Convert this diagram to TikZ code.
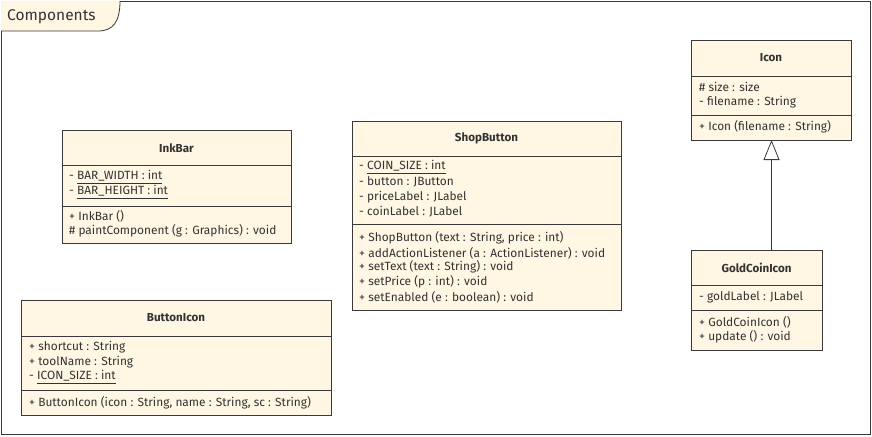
\documentclass[tikz,border=0pt]{standalone}
\usepackage{fontspec}
\setmainfont{Fira Sans}
\usetikzlibrary{arrows.meta}
\definecolor{fillc}{HTML}{FFF7E3}
\definecolor{linec}{HTML}{3A3A3A}
\definecolor{textc}{HTML}{333333}
\begin{document}
\begin{tikzpicture}[x=1pt,y=-1pt,
  box/.style={draw=linec, fill=fillc, line width=0.8pt, inner sep=0pt, outer sep=0pt, anchor=north west},
  sep/.style={draw=linec, line width=0.8pt},
  txt/.style={anchor=west, inner sep=0pt, font=\fontsize{11.9}{13}\selectfont, text=textc},
  ttl/.style={inner sep=0pt, font=\fontsize{11.6}{13}\selectfont\bfseries, text=textc},
  inherit/.style={draw=linec, line width=0.8pt, -{Triangle[open, width=16pt, length=20pt, fill=white]}}]
\useasboundingbox (0,0) rectangle (872,436);
% frame
\node[draw=linec, line width=0.8pt, fill=white, minimum width=869pt, minimum height=433pt, inner sep=0pt, outer sep=0pt, anchor=north west] (frame) at (1,1) {};
\fill[fillc] (1,1) -- (120,1) .. controls (120,22) and (113,31) .. (98,31) -- (1,31) -- cycle;
\draw[linec, line width=0.8pt] (120,1) .. controls (120,22) and (113,31) .. (98,31) -- (1,31);
\node[txt, font=\fontsize{15.5}{17}\selectfont] (ftitle) at (7,17) {Components};

% InkBar
\node[box, minimum width=229pt, minimum height=113pt] (inkbar) at (62,130) {};
\draw[sep] (62,165) -- (291,165);
\draw[sep] (62,206) -- (291,206);
\node[ttl] (inkbart) at (176.5,148) {InkBar};
\node[txt] (ink1) at (69,177) {- \underline{BAR\_WIDTH : int}};
\node[txt] (ink2) at (69,192) {- \underline{BAR\_HEIGHT : int}};
\node[txt] (ink3) at (69,216) {+ InkBar ()};
\node[txt] (ink4) at (69,231) {\# paintComponent (g : Graphics) : void};

% ShopButton
\node[box, minimum width=269pt, minimum height=189pt] (shop) at (352,121) {};
\draw[sep] (352,156) -- (621,156);
\draw[sep] (352,224) -- (621,224);
\node[ttl] (shopt) at (486.5,138) {ShopButton};
\node[txt] (s1) at (359,167) {- \underline{COIN\_SIZE : int}};
\node[txt] (s2) at (359,182) {- button : JButton};
\node[txt] (s3) at (359,197) {- priceLabel : JLabel};
\node[txt] (s4) at (359,212) {- coinLabel : JLabel};
\node[txt] (s5) at (359,238) {+ ShopButton (text : String, price : int)};
\node[txt] (s6) at (359,253) {+ addActionListener (a : ActionListener) : void};
\node[txt] (s7) at (359,267) {+ setText (text : String) : void};
\node[txt] (s8) at (359,282) {+ setPrice (p : int) : void};
\node[txt] (s9) at (359,297) {+ setEnabled (e : boolean) : void};

% Icon
\node[box, minimum width=160pt, minimum height=100pt] (icon) at (691,40) {};
\draw[sep] (691,76) -- (851,76);
\draw[sep] (691,115) -- (851,115);
\node[ttl] (icont) at (771,58) {Icon};
\node[txt] (i1) at (699,87) {\# size : size};
\node[txt] (i2) at (699,102) {- filename : String};
\node[txt] (i3) at (699,127) {+ Icon (filename : String)};

% GoldCoinIcon
\node[box, minimum width=131pt, minimum height=100pt] (gold) at (691,250) {};
\draw[sep] (691,285) -- (822,285);
\draw[sep] (691,310) -- (822,310);
\node[ttl] (goldt) at (756.5,268) {GoldCoinIcon};
\node[txt] (g1) at (699,297) {- goldLabel : JLabel};
\node[txt] (g2) at (699,322) {+ GoldCoinIcon ()};
\node[txt] (g3) at (699,337) {+ update () : void};

% ButtonIcon
\node[box, minimum width=310pt, minimum height=115pt] (bicon) at (21,300) {};
\draw[sep] (21,336) -- (331,336);
\draw[sep] (21,390) -- (331,390);
\node[ttl] (bicont) at (176,318) {ButtonIcon};
\node[txt] (b1) at (29,347) {+ shortcut : String};
\node[txt] (b2) at (29,362) {+ toolName : String};
\node[txt] (b3) at (29,377) {- \underline{ICON\_SIZE : int}};
\node[txt] (b4) at (29,403) {+ ButtonIcon (icon : String, name : String, sc : String)};

% generalization
\coordinate (gtop) at (771.5,250);
\coordinate (ibot) at (771.5,140);
\draw[inherit] (gtop) -- (ibot);
\end{tikzpicture}
\end{document}
